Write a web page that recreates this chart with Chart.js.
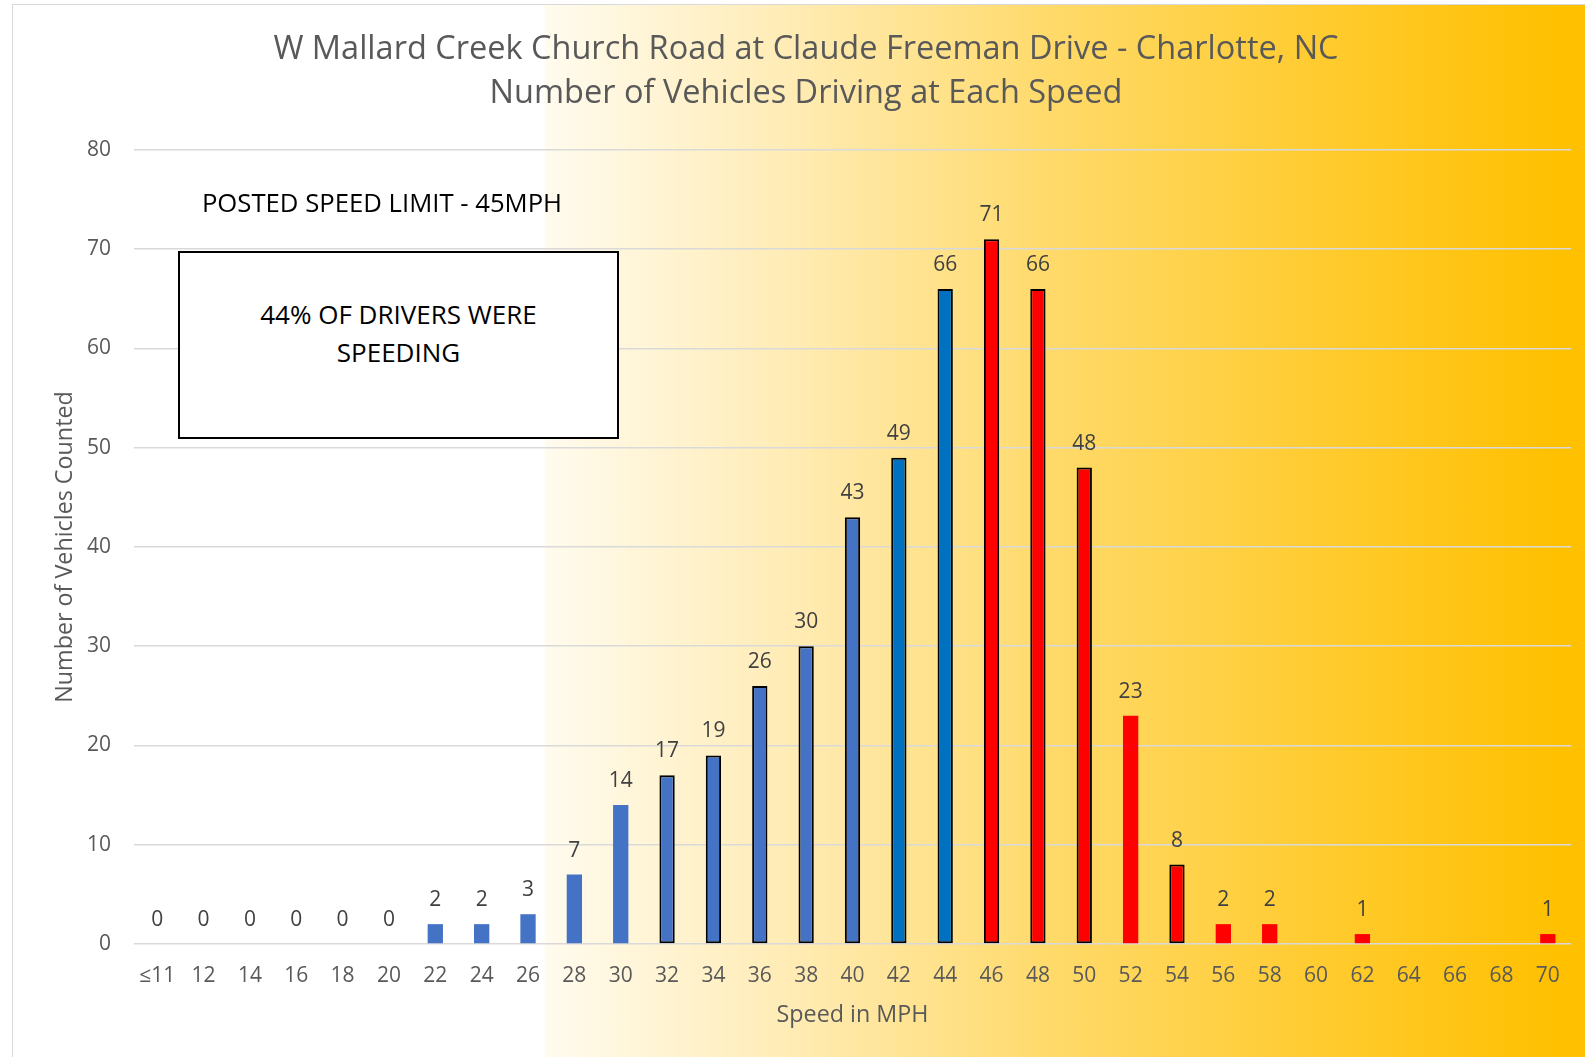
<!DOCTYPE html>
<html>
<head>
<meta charset="utf-8">
<script src="https://cdn.jsdelivr.net/npm/chart.js@4.4.0/dist/chart.umd.min.js"></script>
<style>
    html, body { margin: 0; padding: 0; background: #fff; }
    #wrap { position: relative; width: 1585px; height: 1057px; overflow: hidden; font-family: "Open Sans", sans-serif; }
    #bg {
        position: absolute; left: 12px; top: 4px; width: 1573px; height: 1060px;
        border-left: 1.5px solid #d9d9d9; border-top: 1.5px solid #d9d9d9;
        background: linear-gradient(to right, #ffffff 0%, #ffffff 33.7%, #fffbee 33.9%, #ffebb2 50.1%, #ffda6a 66%, #ffcc33 81.9%, #ffc000 98.4%);
    }
    #chart { position: absolute; left: 0; top: 0; }
    #limit { position: absolute; left: 132px; top: 185px; width: 500px; text-align: center; font-size: 25.7px; color: #000; }
    #note {
        position: absolute; left: 178px; top: 251px; width: 437px; height: 142px;
        border: 2px solid #000; background: #fff; text-align: center;
        font-size: 26px; line-height: 38px; color: #000; padding-top: 42px; box-sizing: content-box;
    }
</style>
</head>
<body>
<div id="wrap">
    <div id="bg"></div>
    <canvas id="chart" width="1585" height="1057"></canvas>
    <div id="limit">POSTED SPEED LIMIT - 45MPH</div>
    <div id="note">44% OF DRIVERS WERE<br>SPEEDING</div>
</div>
<script>
// Speed buckets (mph) and vehicle counts
const speeds = ['≤11', '12', '14', '16', '18', '20', '22', '24', '26', '28', '30', '32', '34', '36', '38',
    '40', '42', '44', '46', '48', '50', '52', '54', '56', '58', '60', '62', '64', '66', '68', '70'];
const counts = [0, 0, 0, 0, 0, 0, 2, 2, 3, 7, 14, 17, 19, 26, 30,
    43, 49, 66, 71, 66, 48, 23, 8, 2, 2, null, 1, null, null, null, 1];
const speedLimit = 45;
const darkBlueSpeeds = ['42', '44'];
const outlinedSpeeds = ['32', '34', '36', '38', '40', '42', '44', '46', '48', '50', '54'];
const yTicks = [0, 10, 20, 30, 40, 50, 60, 70, 80];

const textColor = '#595959';
const fontFamily = '"Open Sans", sans-serif';

// Bar colours: red above the limit, darker blue near it
const barColors = speeds.map(s => {
    const v = parseInt(s.replace('≤', ''), 10);
    if (v > speedLimit) return '#ff0000';
    if (darkBlueSpeeds.includes(s)) return '#0070c0';
    return '#4472c4';
});
const barBorders = speeds.map(s => outlinedSpeeds.includes(s) ? 2 : 0);

// Value labels above the bars
const valueLabels = {
    id: 'valueLabels',
    afterDatasetsDraw(chart) {
        const ctx = chart.ctx;
        const meta = chart.getDatasetMeta(0);
        ctx.save();
        ctx.font = '21px ' + fontFamily;
        ctx.fillStyle = '#404040';
        ctx.textAlign = 'center';
        ctx.textBaseline = 'middle';
        meta.data.forEach((bar, i) => {
            const v = counts[i];
            if (v === null) return;
            ctx.fillText(String(v), bar.x, bar.y - 24);
        });
        ctx.restore();
    }
};

const ctx = document.getElementById('chart').getContext('2d');
const chart = new Chart(ctx, {
    type: 'bar',
    data: {
        labels: speeds,
        datasets: [{
            data: counts,
            backgroundColor: barColors,
            borderColor: '#000000',
            borderWidth: barBorders,
            borderSkipped: false,
            barPercentage: 0.33,
            categoryPercentage: 1.0
        }]
    },
    options: {
        responsive: false,
        animation: false,
        devicePixelRatio: 1,
        layout: { padding: { left: 41, right: 14, top: 4, bottom: 0 } },
        plugins: {
            legend: { display: false },
            tooltip: { enabled: false },
            title: {
                display: true,
                text: ['W Mallard Creek Church Road at Claude Freeman Drive - Charlotte, NC',
                    'Number of Vehicles Driving at Each Speed'],
                color: textColor,
                font: { family: fontFamily, size: 32.5, weight: 'normal', lineHeight: 1.369 },
                padding: { top: 23, bottom: 34 }
            }
        },
        scales: {
            x: {
                grid: { display: false, drawTicks: false },
                border: { display: false },
                ticks: {
                    color: textColor,
                    font: { family: fontFamily, size: 21 },
                    padding: 19,
                    maxRotation: 0,
                    autoSkip: false
                },
                title: {
                    display: true,
                    text: 'Speed in MPH',
                    color: textColor,
                    font: { family: fontFamily, size: 23.3 },
                    padding: { top: 0, bottom: 28 }
                },
                afterFit(scale) { scale.height = 113; }
            },
            y: {
                min: 0,
                max: 80,
                afterBuildTicks(scale) { scale.ticks = yTicks.map(v => ({ value: v })); },
                grid: { color: '#d9d9d9', lineWidth: 1.5, drawTicks: false },
                border: { display: false },
                ticks: {
                    color: textColor,
                    font: { family: fontFamily, size: 21 },
                    padding: 23
                },
                title: {
                    display: true,
                    text: 'Number of Vehicles Counted',
                    color: textColor,
                    font: { family: fontFamily, size: 23.3 },
                    padding: { top: 10, bottom: 0 }
                },
                afterFit(scale) { scale.width = 93; }
            }
        }
    },
    plugins: [valueLabels]
});
</script>
</body>
</html>
